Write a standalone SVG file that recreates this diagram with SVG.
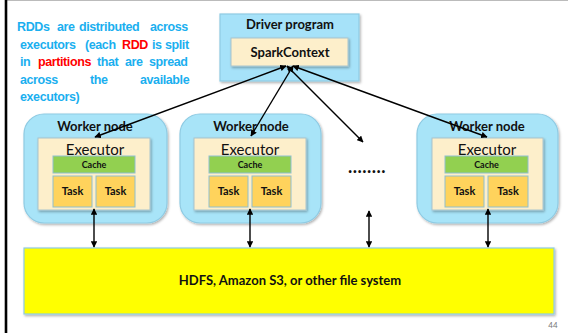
<svg xmlns="http://www.w3.org/2000/svg" width="568" height="333" viewBox="0 0 568 333">
<style>
.lbl{font-family:Lato,"Open Sans","DejaVu Sans",sans-serif;fill:#111;text-anchor:middle}
.worker{fill:#A8E4F8;stroke:#8FCBE3;stroke-width:1.2}
.exec{fill:#FDEFCB;stroke:#A9C4CC;stroke-width:1}
.cache{fill:#92D050;stroke:#8FBFD0;stroke-width:1}
.task{fill:#FFD35C;stroke:#8FBFD0;stroke-width:1}
.conn{stroke:#000;stroke-width:1.4;fill:none}
.note{font-family:"Liberation Sans",Arial,sans-serif;font-weight:bold;font-size:12.5px;fill:#1AAFEF;letter-spacing:-0.4px}
.red{fill:#FF0000}
</style>
<defs>
<filter id="sh" x="-10%" y="-10%" width="125%" height="130%">
<feDropShadow dx="1.2" dy="1.5" stdDeviation="1" flood-color="#000" flood-opacity="0.3"/>
</filter>
<marker id="ah" viewBox="0 0 10 10" refX="9" refY="5" markerWidth="6.5" markerHeight="6.5" orient="auto-start-reverse" markerUnits="userSpaceOnUse">
<path d="M0,0 L10,5 L0,10 z" fill="#000"/>
</marker>
</defs>
<rect x="0" y="0" width="568" height="333" fill="#fff"/>
<line x1="7" y1="0.5" x2="568" y2="0.5" stroke="#BBBBBB" stroke-width="1"/>
<line x1="6" y1="0" x2="6" y2="333" stroke="#000" stroke-width="2.6"/>

<g id="note">
<text class="note" y="31"><tspan x="17">RDDs</tspan><tspan x="57">are</tspan><tspan x="79">distributed</tspan><tspan x="150">across</tspan></text>
<text class="note" y="49"><tspan x="20">executors</tspan><tspan x="85">(each</tspan><tspan x="122" class="red">RDD</tspan><tspan x="152">is</tspan><tspan x="165">split</tspan></text>
<text class="note" y="66"><tspan x="20">in</tspan><tspan x="38" class="red">partitions</tspan><tspan x="97">that</tspan><tspan x="125">are</tspan><tspan x="149">spread</tspan></text>
<text class="note" y="84"><tspan x="20">across</tspan><tspan x="90">the</tspan><tspan x="140">available</tspan></text>
<text class="note" y="101"><tspan x="20">executors)</tspan></text>
</g>

<g id="driver">
<rect x="220" y="14" width="139" height="67" fill="#A6E2F9" stroke="#8FCBE3" stroke-width="1.2" filter="url(#sh)"/>
<text class="lbl" x="290" y="29" font-size="13" font-weight="bold">Driver program</text>
<rect x="231" y="38" width="117" height="28" class="exec" filter="url(#sh)"/>
<text class="lbl" x="290" y="57" font-size="13" font-weight="bold">SparkContext</text>
</g>

<g id="worker1">
<rect x="24" y="114" width="143" height="109" rx="20" class="worker" filter="url(#sh)"/>
<text class="lbl" x="95" y="131" font-size="13" font-weight="bold">Worker node</text>
<rect x="38" y="138" width="112" height="72" class="exec" filter="url(#sh)"/>
<text class="lbl" x="95" y="155" font-size="15">Executor</text>
<rect x="53" y="156" width="82" height="17" class="cache"/>
<text class="lbl" x="94" y="168" font-size="9" font-weight="bold">Cache</text>
<rect x="53" y="176" width="39" height="31" class="task"/>
<text class="lbl" x="72.5" y="195" font-size="11" font-weight="bold">Task</text>
<rect x="96" y="176" width="39" height="31" class="task"/>
<text class="lbl" x="115.5" y="195" font-size="11" font-weight="bold">Task</text>
</g>

<g id="worker2">
<rect x="180" y="114" width="141" height="109" rx="20" class="worker" filter="url(#sh)"/>
<text class="lbl" x="251" y="131" font-size="13" font-weight="bold">Worker node</text>
<rect x="194" y="138" width="112" height="72" class="exec" filter="url(#sh)"/>
<text class="lbl" x="250" y="155" font-size="15">Executor</text>
<rect x="209" y="156" width="82" height="17" class="cache"/>
<text class="lbl" x="250" y="168" font-size="9" font-weight="bold">Cache</text>
<rect x="209" y="176" width="39" height="31" class="task"/>
<text class="lbl" x="228.5" y="195" font-size="11" font-weight="bold">Task</text>
<rect x="252" y="176" width="39" height="31" class="task"/>
<text class="lbl" x="271.5" y="195" font-size="11" font-weight="bold">Task</text>
</g>

<g id="worker3">
<rect x="417" y="114" width="141" height="109" rx="20" class="worker" filter="url(#sh)"/>
<text class="lbl" x="487" y="131" font-size="13" font-weight="bold">Worker node</text>
<rect x="432" y="138" width="111" height="72" class="exec" filter="url(#sh)"/>
<text class="lbl" x="487" y="155" font-size="15">Executor</text>
<rect x="445" y="156" width="83" height="17" class="cache"/>
<text class="lbl" x="486.5" y="168" font-size="9" font-weight="bold">Cache</text>
<rect x="445" y="176" width="39" height="31" class="task"/>
<text class="lbl" x="464.5" y="195" font-size="11" font-weight="bold">Task</text>
<rect x="488" y="176" width="40" height="31" class="task"/>
<text class="lbl" x="508" y="195" font-size="11" font-weight="bold">Task</text>
</g>

<g id="dots">
<text class="lbl" x="367" y="173" font-size="18" font-weight="bold" letter-spacing="0.5">........</text>
</g>

<g id="hdfs">
<rect x="24" y="248" width="530" height="66" fill="#FFFF00" stroke="#8FCBE3" stroke-width="1.2" filter="url(#sh)"/>
<text class="lbl" x="290" y="285" font-size="13" font-weight="bold">HDFS, Amazon S3, or other file system</text>
</g>

<g id="connectors">
<line class="conn" x1="286" y1="66" x2="95" y2="137" marker-start="url(#ah)" marker-end="url(#ah)"/>
<line class="conn" x1="293" y1="66" x2="251" y2="136" marker-start="url(#ah)" marker-end="url(#ah)"/>
<line class="conn" x1="287" y1="66" x2="363" y2="142" marker-start="url(#ah)" marker-end="url(#ah)"/>
<line class="conn" x1="293" y1="66" x2="487" y2="137" marker-start="url(#ah)" marker-end="url(#ah)"/>
<line class="conn" x1="94" y1="209" x2="94" y2="247" marker-start="url(#ah)" marker-end="url(#ah)"/>
<line class="conn" x1="250" y1="209" x2="250" y2="247" marker-start="url(#ah)" marker-end="url(#ah)"/>
<line class="conn" x1="369" y1="211" x2="369" y2="247" marker-start="url(#ah)" marker-end="url(#ah)"/>
<line class="conn" x1="488" y1="209" x2="488" y2="247" marker-start="url(#ah)" marker-end="url(#ah)"/>
</g>

<text x="553" y="328" font-family="Lato,sans-serif" font-size="8" fill="#777" text-anchor="middle">44</text>
</svg>
